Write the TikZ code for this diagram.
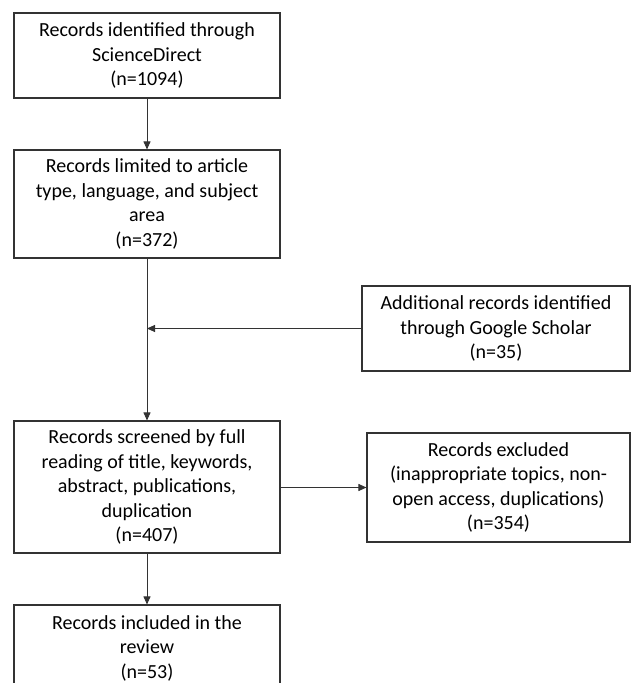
\documentclass[tikz,border=0pt]{standalone}
\usepackage{fontspec}
\setmainfont{Carlito}
\usetikzlibrary{arrows.meta}
\begin{document}
\begin{tikzpicture}[x=1pt,y=-1pt,
  box/.style={draw=black!80, line width=1.1pt, align=center, inner sep=0pt,
    font=\fontsize{20}{24.5}\selectfont, text=black},
  arr/.style={draw=black!80, line width=0.9pt, -{Triangle[length=8pt,width=7pt]}}]
\useasboundingbox (0,0) rectangle (632,683);
\clip (0,0) rectangle (632,683);
\node[box, minimum width=266pt, minimum height=85pt] (b1) at (147,55.5)
  {Records identified through\\ScienceDirect\\(n=1094)};
\node[box, minimum width=266pt, minimum height=108pt] (b2) at (147,204)
  {Records limited to article\\type, language, and subject\\area\\(n=372)};
\node[box, minimum width=268pt, minimum height=85pt] (b3) at (496,328.5)
  {Additional records identified\\through Google Scholar\\(n=35)};
\node[box, minimum width=266pt, minimum height=132pt] (b4) at (147,487)
  {Records screened by full\\reading of title, keywords,\\abstract, publications,\\duplication\\(n=407)};
\node[box, minimum width=263pt, minimum height=109pt] (b5) at (498.5,487.5)
  {Records excluded\\(inappropriate topics, non-\\open access, duplications)\\(n=354)};
\node[box, minimum width=266pt, minimum height=86pt] (b6) at (147,648)
  {Records included in the\\review\\(n=53)};
\coordinate (j) at (b3.west -| b2.south);
\draw[arr] (b1) -- (b2);
\draw[arr] (b2) -- (b4);
\draw[arr] (b3.west) -- (j);
\draw[arr] (b4.east |- b5.west) -- (b5.west);
\draw[arr] (b4) -- (b6);
\end{tikzpicture}
\end{document}
